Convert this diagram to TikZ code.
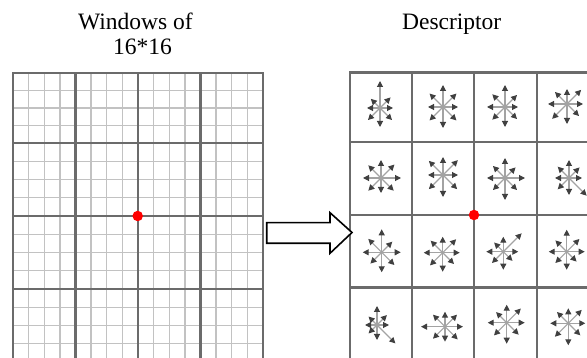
\documentclass[tikz,border=0pt]{standalone}
\usepackage{fontspec}
\setmainfont{Liberation Serif}
\usetikzlibrary{arrows.meta}
\definecolor{majorc}{gray}{0.42}
\definecolor{minorc}{gray}{0.76}
\definecolor{stemc}{gray}{0.64}
\definecolor{headc}{gray}{0.25}
\tikzset{
  majorline/.style={draw=majorc, line width=2.4pt},
  minorline/.style={draw=minorc, line width=1.3pt},
  stemline/.style={draw=stemc, line width=1.1pt, -{Triangle[length=6pt,width=6pt,color=headc]}},
  label/.style={font=\fontsize{23.5}{28}\selectfont, inner sep=0pt, anchor=base},
  keypoint/.style={circle, fill=red, draw=none, minimum size=10.5pt, inner sep=0pt},
  blockarrow/.style={draw=black, fill=white, line width=1.6pt, line join=miter}
}
\newcommand\myrose[3]{%
  \foreach \len [count=\i from 0] in {#3} {
    \draw[stemline] (#1,#2) -- ++({\i*45}:\len pt);
  }%
}
\begin{document}
\begin{tikzpicture}[x=1pt, y=-1pt]
\useasboundingbox (0,0) rectangle (587,358);
\begin{scope}
\clip (0,0) rectangle (587,358);
% left fine grid
\foreach \k in {0,...,16} {
  \draw[minorline] ({13+\k*62.5/4},73) -- ({13+\k*62.5/4},362);
}
\foreach \a/\b in {73/143,143/216,216/289,289/362} {
  \foreach \k in {1,2,3} {
    \draw[minorline] (13,{\a+(\b-\a)*\k/4}) -- (263,{\a+(\b-\a)*\k/4});
  }
}
% left major grid
\foreach \x in {13,75.5,138,200.5,263} {
  \draw[majorline] (\x,73) -- (\x,362);
}
\foreach \y in {73,143,216,289} {
  \draw[majorline, line cap=rect] (13,\y) -- (263,\y);
}
% right grid
\foreach \x in {350,412,474,537} {
  \draw[majorline] (\x,72.5) -- (\x,362);
}
\foreach \y in {72.5,142,215,287.5} {
  \draw[majorline, line cap=rect] (350,\y) -- (599,\y);
}
% descriptor roses: E, NE, N, NW, W, SW, S, SE
\myrose{380}{108}{13,15,27,13,13,17,19,17}
\myrose{443}{107}{15,19,22,19,15,19,21,19}
\myrose{505}{107}{13,17,22,18,18,18,20,17}
\myrose{567}{104}{16,20,15,17,19,21,20,17}
\myrose{381}{178}{20,19,18,18,18,18,15,18}
\myrose{443}{175}{15,21,18,20,15,20,22,20}
\myrose{505}{178}{20,15,20,17,18,17,22,17}
\myrose{569}{178}{13,15,18,16,14,16,17,25}
\myrose{381.7}{252.3}{19,15,23,19,19,16,20,18}
\myrose{442.7}{252.7}{17,19,16,17,19,18,19,16}
\myrose{503.3}{251.7}{15,26,15,13,17,16,18,13}
\myrose{566.7}{251.7}{18,18,22,16,18,16,18,14}
\myrose{377}{325}{12,14,19,12,12,12,15,26}
\myrose{445}{326.7}{18,17,15,17,24,17,15,18}
\myrose{506.7}{322.7}{18,20,18,15,19,18,21,17}
\myrose{568.3}{323.3}{17,19,15,16,18,19,22,17}
\end{scope}
% block arrow
\draw[blockarrow] (266.7,222.7) -- (330,222.7) -- (330,212.7) -- (352,232.5)
  -- (330,253.3) -- (330,243.3) -- (266.7,243.3) -- cycle;
% keypoints
\node[keypoint] (kpl) at (137.7,216) {};
\node[keypoint] (kpr) at (474,215) {};
% titles
\node[label] (t1) at (135.5,29.3) {Windows of};
\node[label] (t2) at (142.5,55) {16*16};
\node[label] (t3) at (451.7,29.3) {Descriptor};
\end{tikzpicture}
\end{document}
